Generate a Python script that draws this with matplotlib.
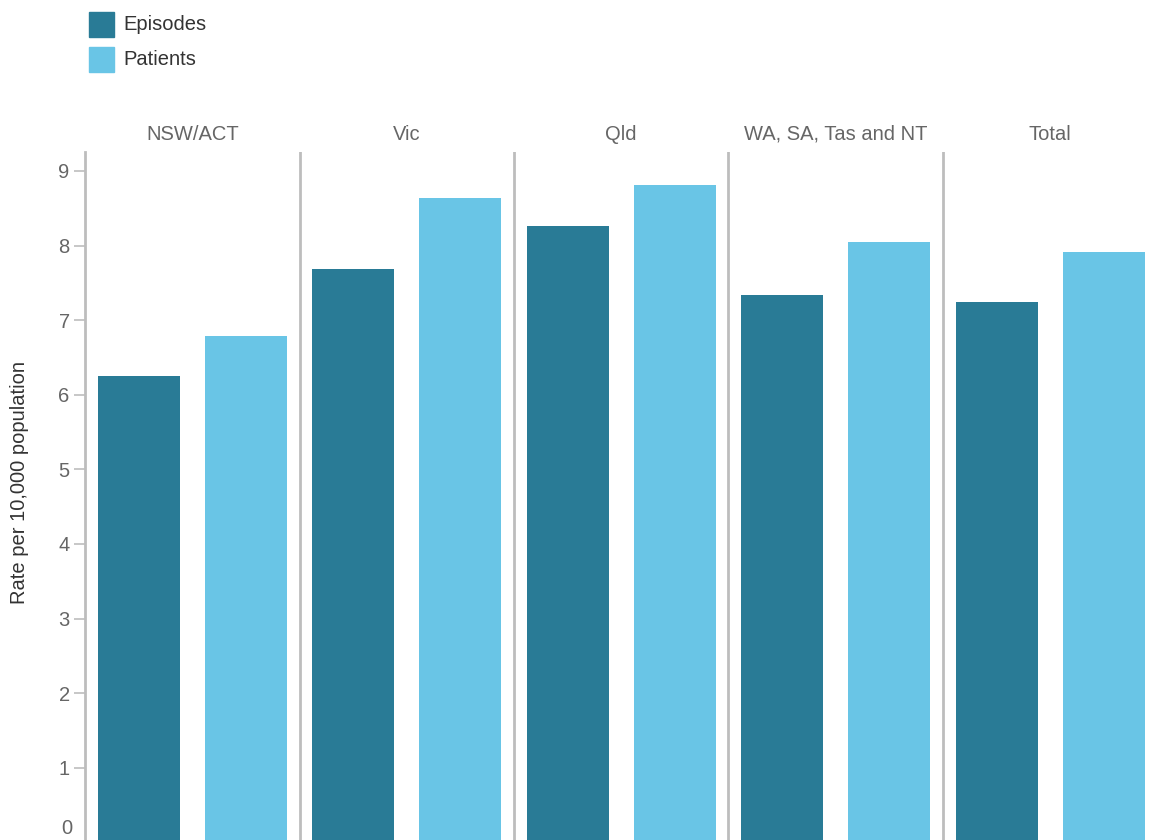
import matplotlib
matplotlib.use("Agg")
import matplotlib.pyplot as plt
from matplotlib.patches import Rectangle

plt.rcParams['font.family'] = ['Liberation Sans', 'DejaVu Sans']

regions = ["NSW/ACT", "Vic", "Qld", "WA, SA, Tas and NT", "Total"]
series_names = ["Episodes", "Patients"]
episodes = [6.25, 7.68, 8.26, 7.34, 7.24]
patients = [6.79, 8.64, 8.81, 8.05, 7.91]
colors = ["#297b96", "#69c5e6"]
yticks = [0, 1, 2, 3, 4, 5, 6, 7, 8, 9]
ylabel = "Rate per 10,000 population"

W, H = 1149, 840
fig = plt.figure(figsize=(W / 100, H / 100), dpi=100)

left_px, right_px = 85, 1157.5
top_px, bottom_px = 152.3, 842.3
ax = fig.add_axes([left_px / W, 1 - bottom_px / H,
                   (right_px - left_px) / W, (bottom_px - top_px) / H])

bar_w = 0.382
for i in range(len(regions)):
    ax.bar(i + 0.25, episodes[i], width=bar_w, color=colors[0])
    ax.bar(i + 0.75, patients[i], width=bar_w, color=colors[1])

ax.set_xlim(0, len(regions))
ax.set_ylim(0, 9.25)

grey = "#bdbdbd"
for s in ["top", "right", "bottom"]:
    ax.spines[s].set_visible(False)
ax.spines["left"].set_color(grey)
ax.spines["left"].set_linewidth(2)
for i in range(1, len(regions)):
    ax.axvline(i, color=grey, linewidth=2, zorder=3)

ax.set_xticks([])
ax.set_yticks(yticks)
# the lowest label is lifted inside the figure, as in the reference
ax.set_yticklabels(["" if t == 0 else str(t) for t in yticks])
ax.tick_params(axis="y", length=8, width=1.2, color=grey, labelcolor="#666666",
               labelsize=14.5, pad=3)
ax.annotate(str(yticks[0]), xy=(0, yticks[0]), xycoords=("axes fraction", "data"),
            xytext=(-13, 14), textcoords="offset pixels", ha="right", va="center",
            fontsize=14.5, color="#666666", annotation_clip=False)

fig.text(20 / W, 1 - 482 / H, ylabel, rotation=90, ha="center", va="center",
         fontsize=14.5, color="#333333")

for i, r in enumerate(regions):
    fig.text((left_px + (i + 0.5) * 214.5) / W, 1 - 134 / H, r, ha="center", va="center",
             fontsize=14.5, color="#666666")

# legend
for k, name in enumerate(series_names):
    y0 = 12 + k * 35
    fig.patches.append(Rectangle((89 / W, 1 - (y0 + 25) / H), 25 / W, 25 / H,
                                 transform=fig.transFigure, color=colors[k]))
    fig.text(123 / W, 1 - (y0 + 12.5) / H, name, ha="left", va="center",
             fontsize=14.5, color="#333333")

fig.savefig("out.png", dpi=100)
